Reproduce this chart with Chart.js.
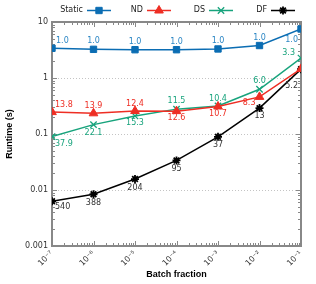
<!DOCTYPE html>
<html><head><meta charset="utf-8">
<script src="https://cdn.jsdelivr.net/npm/chart.js@4/dist/chart.umd.min.js"></script>
<style>html,body{margin:0;padding:0;background:#fff}#wrap{width:316px;height:284px}</style>
</head><body><div id="wrap"><canvas id="c" width="316" height="284"></canvas></div>
<script>
// ---- data ----
const batchFractions = [1e-7, 1e-6, 1e-5, 1e-4, 1e-3, 1e-2, 1e-1];
const xTickLabels = ['10\u207B\u2077', '10\u207B\u2076', '10\u207B\u2075', '10\u207B\u2074', '10\u207B\u00B3', '10\u207B\u00B2', '10\u207B\u00B9'];
const yTickValues = [0.001, 0.01, 0.1, 1, 10];
const yTickLabels = ['0.001', '0.01', '0.1', '1', '10'];
const seriesNames = ['Static', 'ND', 'DS', 'DF'];
const staticRuntime = [3.4, 3.25, 3.2, 3.2, 3.3, 3.8, 7.5];
const ndRuntime = [0.246, 0.234, 0.258, 0.256, 0.31, 0.46, 1.45];
const dsRuntime = [0.09, 0.147, 0.21, 0.278, 0.317, 0.63, 2.27];
const dfRuntime = [0.0063, 0.0084, 0.0157, 0.0337, 0.089, 0.29, 1.44];
const staticLabels = ['1.0', '1.0', '1.0', '1.0', '1.0', '1.0', '1.0'];
const ndLabels = ['13.8', '13.9', '12.4', '12.6', '10.7', '8.3', null];
const dsLabels = ['37.9', '22.1', '15.3', '11.5', '10.4', '6.0', '3.3'];
const dfLabels = ['540', '388', '204', '95', '37', '13', '5.2'];

// ---- styling (label placement: [dx, dy, align]) ----
const staticPlace = [[4,-7,'left'],[0,-8,'center'],[0,-8,'center'],[0,-8,'center'],[0,-8,'center'],[0,-8,'center'],[-3,11,'right']];
const ndPlace = [[3,-7,'left'],[0,-7,'center'],[0,-7,'center'],[0,7,'center'],[0,7,'center'],[-4,6,'right'],null];
const dsPlace = [[3,7,'left'],[0,8,'center'],[0,7,'center'],[0,-8,'center'],[0,-7,'center'],[0,-8,'center'],[-6,-5,'right']];
const dfPlace = [[3,6,'left'],[0,9,'center'],[0,9,'center'],[0,8,'center'],[0,8,'center'],[0,8,'center'],[-3,17,'right']];

const C_STATIC = '#0b6db3', C_STATIC_T = '#2b86c4';
const C_ND = '#ee2e24', C_DS = '#17a37c', C_DF = '#000000', C_DF_T = '#333333';
const AXIS = '#888888';

function pts(vals){ return batchFractions.map((x,i)=>({x:x, y:vals[i]})); }

const datasets = [
  {label: seriesNames[0], data: pts(staticRuntime), borderColor: C_STATIC, backgroundColor: C_STATIC, pointStyle:'rect', pointRadius:4.5, pointBorderWidth:1, borderWidth:1.5, _labels: staticLabels, _place: staticPlace, _tc: C_STATIC_T},
  {label: seriesNames[1], data: pts(ndRuntime), borderColor: C_ND, backgroundColor: C_ND, pointStyle:'triangle', pointRadius:5, pointBorderWidth:1, borderWidth:1.5, _labels: ndLabels, _place: ndPlace, _tc: C_ND},
  {label: seriesNames[2], data: pts(dsRuntime), borderColor: C_DS, backgroundColor: C_DS, pointStyle:'crossRot', pointRadius:4.5, pointBorderWidth:1.3, borderWidth:1.5, _labels: dsLabels, _place: dsPlace, _tc: C_DS},
  {label: seriesNames[3], data: pts(dfRuntime), borderColor: C_DF, backgroundColor: C_DF, pointStyle:'star', pointRadius:4, pointBorderWidth:1.8, borderWidth:1.5, _labels: dfLabels, _place: dfPlace, _tc: C_DF_T}
];

const framePlugin = {
  id: 'frame',
  beforeDatasetsDraw(chart){
    const ctx = chart.ctx, a = chart.chartArea, xs = chart.scales.x, ys = chart.scales.y;
    ctx.save();
    ctx.strokeStyle = '#c4c4c4'; ctx.lineWidth = 1; ctx.setLineDash([1,2]);
    [0.01, 0.1, 1].forEach(v=>{ const y = Math.round(ys.getPixelForValue(v))+0.5; ctx.beginPath(); ctx.moveTo(a.left, y); ctx.lineTo(a.right, y); ctx.stroke(); });
    ctx.setLineDash([]);
    ctx.strokeStyle = AXIS; ctx.lineWidth = 1;
    for (let e=-7; e<=-1; e++){
      for (let m=1; m<=9; m++){
        const v = m*Math.pow(10,e); if (v > 0.1*1.0001) break;
        const len = m===1 ? 5 : 3;
        const x = Math.round(xs.getPixelForValue(v))+0.5;
        ctx.beginPath(); ctx.moveTo(x, a.bottom); ctx.lineTo(x, a.bottom-len); ctx.moveTo(x, a.top); ctx.lineTo(x, a.top+len); ctx.stroke();
      }
    }
    for (let e=-3; e<=1; e++){
      for (let m=1; m<=9; m++){
        const v = m*Math.pow(10,e); if (v > 10*1.0001) break;
        const len = m===1 ? 5 : 3;
        const y = Math.round(ys.getPixelForValue(v))+0.5;
        ctx.beginPath(); ctx.moveTo(a.left, y); ctx.lineTo(a.left+len, y); ctx.moveTo(a.right, y); ctx.lineTo(a.right-len, y); ctx.stroke();
      }
    }
    ctx.lineWidth = 2; ctx.strokeStyle = AXIS;
    ctx.strokeRect(a.left, a.top, a.right-a.left, a.bottom-a.top);
    ctx.restore();
  },
  afterDatasetsDraw(chart){
    const ctx = chart.ctx;
    ctx.save();
    ctx.font = '8px "DejaVu Sans"'; ctx.textBaseline = 'middle';
    chart.data.datasets.forEach((ds, di)=>{
      const meta = chart.getDatasetMeta(di);
      meta.data.forEach((p, i)=>{
        const t = ds._labels[i], pl = ds._place[i];
        if (!t || !pl) return;
        ctx.fillStyle = ds._tc; ctx.textAlign = pl[2];
        ctx.fillText(t, p.x + pl[0], p.y + pl[1]);
      });
    });
    ctx.restore();
  },
  afterDraw(chart){
    const ctx = chart.ctx, H = Chart.helpers;
    const textEnds = [83, 143, 205, 267];
    const y = 10;
    ctx.save();
    chart.data.datasets.forEach((ds, i)=>{
      const xe = textEnds[i];
      ctx.font = '8px "DejaVu Sans"'; ctx.fillStyle = '#222'; ctx.textAlign = 'right'; ctx.textBaseline = 'middle';
      ctx.fillText(ds.label, xe, y);
      ctx.strokeStyle = ds.borderColor; ctx.lineWidth = 1.5;
      ctx.beginPath(); ctx.moveTo(xe+4, y+0.5); ctx.lineTo(xe+28, y+0.5); ctx.stroke();
      ctx.fillStyle = ds.backgroundColor; ctx.strokeStyle = ds.borderColor; ctx.lineWidth = ds.pointBorderWidth;
      H.drawPoint(ctx, {pointStyle: ds.pointStyle, radius: ds.pointRadius, borderWidth: ds.pointBorderWidth}, xe+16, y+0.5);
    });
    ctx.restore();
  }
};

new Chart(document.getElementById('c'), {
  type: 'line',
  data: { datasets },
  options: {
    responsive: false, devicePixelRatio: 1, animation: false,
    layout: { padding: { top: 22, right: 15, left: 0, bottom: 0 } },
    plugins: { legend: { display: false }, tooltip: { enabled: false } },
    elements: { line: { tension: 0 } },
    scales: {
      x: {
        type: 'logarithmic', min: 1e-7, max: 1e-1,
        grid: { display: false, drawTicks: false }, border: { display: false },
        afterBuildTicks(s){ s.ticks = batchFractions.map(v=>({value:v, major:true})); },
        afterFit(s){ s.height = 38; },
        ticks: { autoSkip: false, minRotation: 45, maxRotation: 45, padding: 3, color: '#333', font: { family: 'DejaVu Sans', size: 8 },
          callback(v){ const i = batchFractions.findIndex(b=>Math.abs(Math.log10(b)-Math.log10(v))<1e-6); return i>=0 ? xTickLabels[i] : ''; } },
        title: { display: true, text: 'Batch fraction', color: '#000', font: { family: 'Liberation Sans', size: 9, weight: 'bold' }, padding: { top: 0, bottom: 4 } }
      },
      y: {
        type: 'logarithmic', min: 0.001, max: 10,
        grid: { display: false, drawTicks: false }, border: { display: false },
        afterBuildTicks(s){ s.ticks = yTickValues.map(v=>({value:v, major:true})); },
        afterFit(s){ s.width = 52; },
        ticks: { autoSkip: false, padding: 4, color: '#333', font: { family: 'DejaVu Sans', size: 8 },
          callback(v){ const i = yTickValues.findIndex(b=>Math.abs(Math.log10(b)-Math.log10(v))<1e-6); return i>=0 ? yTickLabels[i] : ''; } },
        title: { display: true, text: 'Runtime (s)', color: '#000', font: { family: 'Liberation Sans', size: 9, weight: 'bold' }, padding: { top: 4, bottom: 0 } }
      }
    }
  },
  plugins: [framePlugin]
});
</script></body></html>
